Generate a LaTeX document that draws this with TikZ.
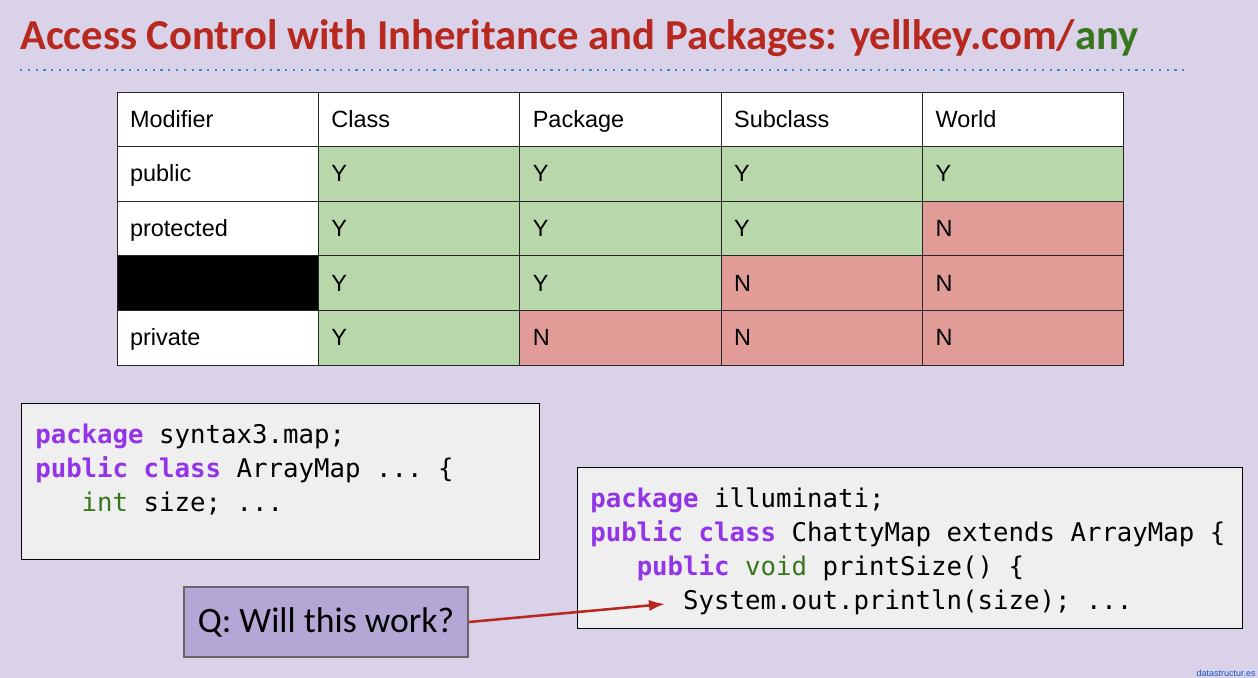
\documentclass[tikz,border=0pt]{standalone}
\usepackage{fontspec}
\setmainfont{Liberation Sans}
\setmonofont{DejaVu Sans Mono}
\newfontfamily\slidefont{Carlito}
\usepackage{tikz}
\usetikzlibrary{arrows.meta}

\definecolor{SlideBg}{HTML}{D9D2E9}
\definecolor{TitleRed}{HTML}{B7281E}
\definecolor{AnyGreen}{HTML}{38761D}
\definecolor{RuleBlue}{HTML}{3D85C6}
\definecolor{YesGreen}{HTML}{B8D7AA}
\definecolor{NoRed}{HTML}{E29C98}
\definecolor{KeyPurple}{HTML}{9334E6}
\definecolor{CodeGray}{HTML}{EFEFEF}
\definecolor{QPurple}{HTML}{B4A7D6}
\definecolor{QBorder}{HTML}{666666}
\definecolor{LinkBlue}{HTML}{1155CC}

\tikzstyle{Cell}=[rectangle, draw=black!85, line width=0.75pt, fill=white, minimum width=151pt, minimum height=40.95pt, text width=131.5pt, inner xsep=9.75pt, inner ysep=0pt, text height=14pt, text depth=2pt, align=left, font=\fontsize{17.6}{20}\selectfont]
\tikzstyle{YesCell}=[Cell, fill=YesGreen]
\tikzstyle{NoCell}=[Cell, fill=NoRed]
\tikzstyle{HiddenCell}=[Cell, fill=black]
\tikzstyle{CodeBox}=[rectangle, draw=black, line width=0.75pt, fill=CodeGray, inner sep=0pt]
\tikzstyle{CodeText}=[anchor=base west, inner sep=0pt, align=left, font=\ttfamily\fontsize{19.3}{25.7}\selectfont]
\tikzstyle{QBox}=[rectangle, draw=QBorder, line width=1.5pt, fill=QPurple, minimum width=213pt, minimum height=52.5pt, font=\slidefont\fontsize{26.8}{30}\selectfont]
\tikzstyle{QArrow}=[->, draw=TitleRed, line width=1.9pt]
\tikzset{>={Latex[length=12pt,width=8.5pt]}}
\newcommand{\kw}[1]{\textcolor{KeyPurple}{\bfseries #1}}
\newcommand{\ty}[1]{\textcolor{AnyGreen}{#1}}

\begin{document}
\begin{tikzpicture}[x=0.75pt, y=-0.75pt]
\fill[SlideBg] (0,0) rectangle (1258,678);
\useasboundingbox (0,0) rectangle (1258,678);

\node[anchor=base west, inner sep=0pt, text=TitleRed, font=\slidefont\bfseries\fontsize{32}{36}\selectfont] (title) at (20,49.5) {Access Control with Inheritance and Packages: yellkey.com/\textcolor{AnyGreen}{any}};
\draw[RuleBlue, line width=2.2pt, dash pattern=on 1.6pt off 4.25pt] (20,70) -- (1188,70);

%%%%%%%%%%%%%%%%%%%%%%%%%%%%%%%%%%%%%%%%%

\node[Cell](ModHead) at (217.7,119.3) {Modifier};
\node[Cell](ClassHead) at (419.1,119.3) {Class};
\node[Cell](PackHead) at (620.5,119.3) {Package};
\node[Cell](SubHead) at (821.9,119.3) {Subclass};
\node[Cell](WorldHead) at (1023.3,119.3) {World};

\node[Cell](PubMod) at (217.7,173.9) {public};
\node[YesCell](PubClass) at (419.1,173.9) {Y};
\node[YesCell](PubPack) at (620.5,173.9) {Y};
\node[YesCell](PubSub) at (821.9,173.9) {Y};
\node[YesCell](PubWorld) at (1023.3,173.9) {Y};

\node[Cell](ProtMod) at (217.7,228.5) {protected};
\node[YesCell](ProtClass) at (419.1,228.5) {Y};
\node[YesCell](ProtPack) at (620.5,228.5) {Y};
\node[YesCell](ProtSub) at (821.9,228.5) {Y};
\node[NoCell](ProtWorld) at (1023.3,228.5) {N};

\node[HiddenCell](PkgMod) at (217.7,283.1) {};
\node[YesCell](PkgClass) at (419.1,283.1) {Y};
\node[YesCell](PkgPack) at (620.5,283.1) {Y};
\node[NoCell](PkgSub) at (821.9,283.1) {N};
\node[NoCell](PkgWorld) at (1023.3,283.1) {N};

\node[Cell](PrivMod) at (217.7,337.7) {private};
\node[YesCell](PrivClass) at (419.1,337.7) {Y};
\node[NoCell](PrivPack) at (620.5,337.7) {N};
\node[NoCell](PrivSub) at (821.9,337.7) {N};
\node[NoCell](PrivWorld) at (1023.3,337.7) {N};

%%%%%%%%%%%%%%%%%%%%%%%%%%%%%%%%%%%%%%%%%

\node[CodeBox, minimum width=388.5pt, minimum height=117pt](ArrayMapBox) at (280,481) {};
% base of a multi-line node sits on its last line
\node[CodeText](ArrayMapCode) at (35,511.6) {\kw{package} syntax3.map;\\
\kw{public} \kw{class} ArrayMap ... \{\\
\phantom{xxx}\ty{int} size; ...};

\node[CodeBox, minimum width=498.75pt, minimum height=120.75pt](ChattyBox) at (909.5,547.5) {};
\node[CodeText](ChattyCode) at (590,609.9) {\kw{package} illuminati;\\
\kw{public} \kw{class} ChattyMap extends ArrayMap \{\\
\phantom{xxx}\kw{public} \ty{void} printSize() \{\\
\phantom{xxxxxx}System.out.println(size); ...};

%%%%%%%%%%%%%%%%%%%%%%%%%%%%%%%%%%%%%%%%%

\node[QBox](Question) at (326,622) {Q: Will this work?};
\coordinate (SizeCall) at (665,604);
\draw[QArrow](Question.east) -- (SizeCall);

\node[anchor=base east, inner sep=0pt, text=LinkBlue, font=\fontsize{6.75}{8}\selectfont] (credit) at (1256,676) {datastructur.es};
\end{tikzpicture}
\end{document}
